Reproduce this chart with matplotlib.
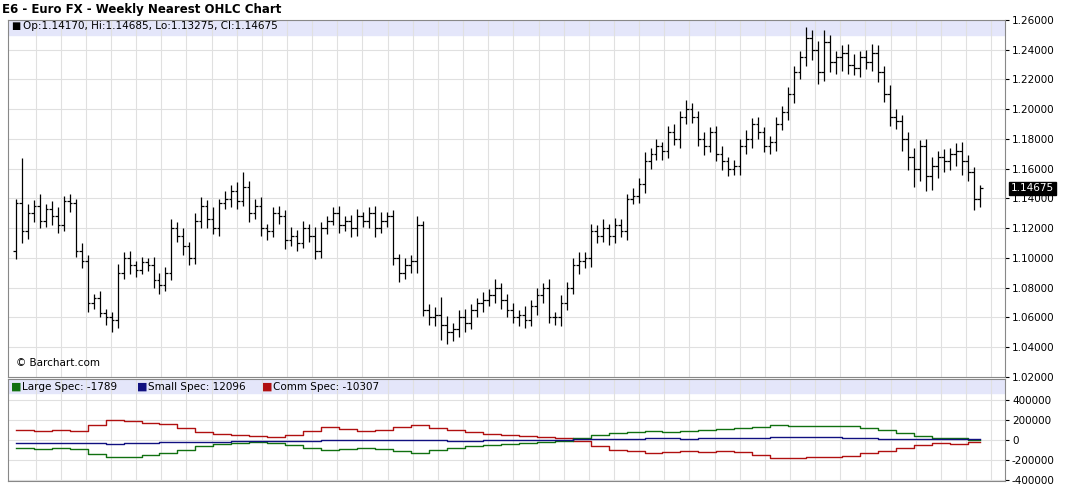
import matplotlib
matplotlib.use("Agg")
import matplotlib.pyplot as plt
import numpy as np

closes = [1.137,1.118,1.130,1.135,1.125,1.133,1.128,1.122,1.138,1.137,
 1.105,1.098,1.070,1.073,1.063,1.060,1.058,
 1.090,1.100,1.095,1.092,1.097,1.095,1.085,1.082,1.090,
 1.120,1.115,1.108,1.100,1.125,1.135,1.126,1.120,1.137,1.140,1.145,1.138,1.148,
 1.130,1.135,1.120,1.118,1.130,1.128,1.112,
 1.115,1.110,1.120,1.115,1.105,1.120,1.125,1.130,1.122,1.125,1.120,1.128,1.125,1.130,1.120,1.125,1.128,
 1.100,1.090,1.095,1.098,1.122,1.065,1.060,
 1.062,1.055,1.050,1.052,1.060,1.056,1.065,1.070,1.072,1.075,1.080,1.072,
 1.065,1.060,1.062,1.058,1.068,1.075,1.080,1.060,1.060,
 1.070,1.080,1.095,1.098,1.100,1.118,
 1.115,1.120,1.115,1.122,1.118,1.140,1.142,1.150,
 1.165,1.170,1.175,1.172,1.185,1.180,1.195,1.200,1.195,
 1.180,1.175,1.185,1.170,1.165,1.160,1.162,1.175,1.180,
 1.190,1.185,1.175,1.178,1.190,1.198,1.210,1.225,
 1.235,1.248,1.240,1.225,1.245,1.232,1.235,1.238,1.230,1.228,
 1.235,1.232,1.238,1.225,1.210,1.195,1.192,
 1.180,1.168,1.160,1.175,1.155,1.162,1.168,1.165,1.170,1.172,1.165,1.158,1.140,1.14675]
open_first = 1.105
# extension above max(open, close) and below min(open, close), in 0.001 units
hi_ext = [3,30,6,4,8,3,5,6,4,5, 3,5,4,3,5,3,4, 6,4,5,3,4,3,6,5,4,
 6,4,5,3,5,6,4,8,3,5,4,6,10, 4,5,6,3,4,5,4,
 6,4,5,3,6,4,3,4,5,3,4,5,3,4,5,6,3, 4,3,5,4,6,3,4,
 5,12,6,4,5,6,4,3,5,4,6,3, 4,5,3,6,4,5,3,6,4,
 5,4,5,6,4,5, 4,6,3,5,4,3,5,4, 6,4,5,3,4,5,4,6,4,
 4,5,3,4,5,3,4,5,6, 4,5,3,4,5,4,5,4,
 4,7,5,6,8,5,4,5,6,7, 4,5,6,5,4,6,5,
 4,5,6,4,5,6,4,5,4,5,6,4,3,2]
lo_ext = [6,8,5,6,5,4,6,5,4,6, 4,5,6,4,3,5,8, 5,4,6,5,3,4,5,6,4,
 5,4,6,5,4,5,6,4,5,4,6,5,3, 6,4,5,6,4,5,6,
 4,5,3,4,6,5,4,3,5,4,6,5,4,5,6,3,4, 5,6,4,5,8,4,5,
 6,10,8,6,5,6,4,5,6,4,5,6, 5,4,6,5,4,6,5,4,5,
 6,5,4,6,5,6, 5,4,6,5,4,6,4,5, 6,5,4,6,5,4,6,5,4,
 5,6,4,5,6,5,4,6,5, 6,5,4,5,6,4,5,6,
 5,6,7,8,6,7,8,9,6,5, 6,5,6,7,5,6,5,
 8,9,12,8,10,9,8,7,6,8,9,6,8,6]

large_spec = [-80,-85,-80,-90,-140,-170,-165,-150,-130,-100,-60,-40,-30,-20,-30,-50,-80,-100,
 -90,-80,-90,-110,-130,-100,-80,-60,-50,-40,-30,-20,-10,20,50,70,80,90,
 80,90,100,110,120,130,150,145,140,145,140,120,100,70,40,20,25,5]
small_spec = [-30,-30,-25,-28,-30,-35,-30,-25,-22,-20,-18,-15,-12,-10,-8,-5,-5,-3,
 -2,0,2,0,-2,-3,-5,-5,-4,-2,0,2,5,10,12,15,15,18,
 18,15,20,22,25,25,28,30,30,28,25,20,15,12,10,10,8,12]
comm_spec = [100,95,100,95,150,200,190,170,160,120,80,60,50,40,30,50,90,130,
 110,90,100,130,150,120,100,80,60,50,40,30,20,-10,-60,-100,-110,-130,
 -120,-110,-120,-110,-120,-150,-180,-175,-170,-165,-160,-130,-110,-80,-50,-30,-40,-15]

W, H = 1066, 487
fig = plt.figure(figsize=(W/100, H/100), dpi=100)
def fr(x0, y0, x1, y1):
    return [x0/W, 1-y1/H, (x1-x0)/W, (y1-y0)/H]

grid_c = '#e0e0e0'
n = len(closes)
xl = (-1.3, 165.2)
vgrid = np.arange(3.3, 166, 4.2)

ax = fig.add_axes(fr(8, 20, 1005, 377))
opens = [open_first] + closes[:-1]
for i in range(n):
    o, c = opens[i], closes[i]
    hi = max(o, c) + hi_ext[i]/1000
    lo = min(o, c) - lo_ext[i]/1000
    ax.plot([i, i], [lo, hi], color='black', lw=0.9, solid_capstyle='butt')
    ax.plot([i-0.45, i], [o, o], color='black', lw=0.9, solid_capstyle='butt')
    ax.plot([i, i+0.45], [c, c], color='black', lw=0.9, solid_capstyle='butt')
ax.set_xlim(*xl)
ax.set_ylim(1.02, 1.26)
ax.set_yticks(np.arange(1.02, 1.2601, 0.02))
ax.set_yticklabels([f"{v:.5f}" for v in np.arange(1.02, 1.2601, 0.02)])
ax.set_xticks(vgrid)
ax.set_xticklabels([])
ax.tick_params(axis='x', length=0)
ax.yaxis.tick_right()
ax.tick_params(axis='y', labelsize=7.5, length=3, pad=2)
ax.grid(True, color=grid_c, lw=0.8)
ax.set_axisbelow(True)
ax.axhspan(1.26 - 15/1483.0, 1.26, color='#e4e6fa', zorder=0.5)
for s in ax.spines.values():
    s.set_color('#888888')
ax.text(0.003, 0.982, "■", transform=ax.transAxes, fontsize=7, va='center', ha='left')
ax.text(0.015, 0.982, "Op:1.14170, Hi:1.14685, Lo:1.13275, Cl:1.14675", transform=ax.transAxes,
        fontsize=7.5, va='center', ha='left')
ax.text(0.008, 0.038, "© Barchart.com", transform=ax.transAxes, fontsize=7.5, va='center')
ax.text(1.006, (closes[-1]-1.02)/0.24, f"{closes[-1]:.5f}", transform=ax.transAxes,
        fontsize=7.5, color='white', va='center', ha='left',
        bbox=dict(boxstyle='square,pad=0.15', fc='black', ec='black'))

fig.text(2/W, 1-9/H, "E6 - Euro FX - Weekly Nearest OHLC Chart", fontsize=8.5, fontweight='bold', va='center')

ax2 = fig.add_axes(fr(8, 379, 1005, 481))
sx = np.arange(len(comm_spec))*3
for vals, col in [(comm_spec, '#b01010'), (large_spec, '#107010'), (small_spec, '#101080')]:
    ax2.step(list(sx) + [n-1], [v*1000 for v in vals] + [vals[-1]*1000], where='post', color=col, lw=1)
ax2.set_xlim(*xl)
ax2.set_ylim(-410000, 610000)
ax2.set_yticks([-400000, -200000, 0, 200000, 400000])
ax2.set_yticklabels(['-400000', '-200000', '0', '200000', '400000'])
ax2.yaxis.tick_right()
ax2.tick_params(axis='y', labelsize=7.5, length=3, pad=2)
ax2.set_xticks(vgrid)
ax2.set_xticklabels([])
ax2.tick_params(axis='x', length=0)
ax2.grid(True, color=grid_c, lw=0.8)
ax2.set_axisbelow(True)
ax2.axhspan(470000, 610000, color='#e4e6fa', zorder=0.5)
for s in ax2.spines.values():
    s.set_color('#888888')
lx = 0.003
for lab, col in [("Large Spec: -1789", '#107010'), ("Small Spec: 12096", '#101080'), ("Comm Spec: -10307", '#b01010')]:
    ax2.text(lx, 0.925, "■", transform=ax2.transAxes, fontsize=8, color=col, va='center')
    ax2.text(lx+0.011, 0.925, lab, transform=ax2.transAxes, fontsize=7.5, va='center')
    lx += 0.126

fig.savefig("out.png", dpi=100, facecolor='white')
